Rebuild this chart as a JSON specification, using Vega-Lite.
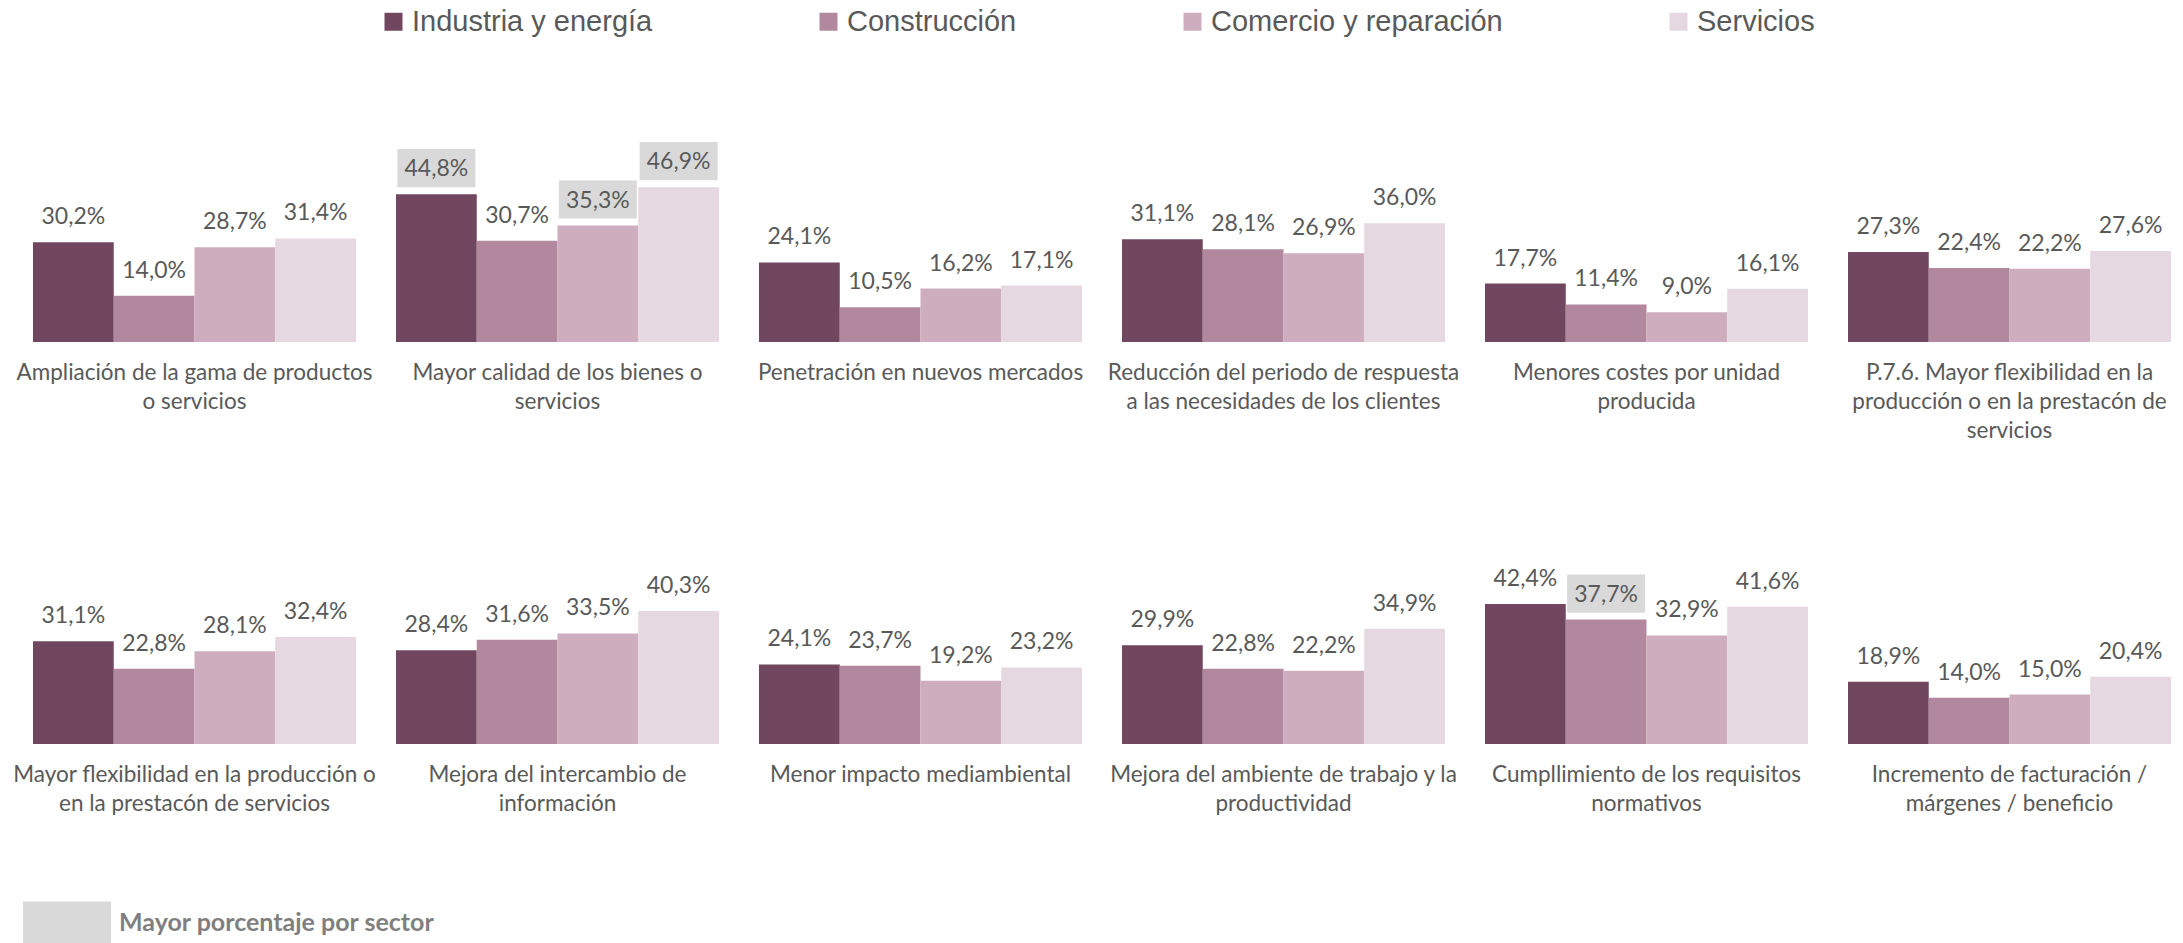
{
  "$schema": "https://vega.github.io/schema/vega-lite/v6.json",
  "padding": {"left": 12, "top": 7, "right": 0, "bottom": 0},
  "background": "white",
  "data": {
    "values": [
      {"cat": "Ampliación de la gama de productos\no servicios", "sector": "Industria y energía", "value": 0.302},
      {"cat": "Ampliación de la gama de productos\no servicios", "sector": "Construcción", "value": 0.140},
      {"cat": "Ampliación de la gama de productos\no servicios", "sector": "Comercio y reparación", "value": 0.287},
      {"cat": "Ampliación de la gama de productos\no servicios", "sector": "Servicios", "value": 0.314},
      {"cat": "Mayor calidad de los bienes o\nservicios", "sector": "Industria y energía", "value": 0.448},
      {"cat": "Mayor calidad de los bienes o\nservicios", "sector": "Construcción", "value": 0.307},
      {"cat": "Mayor calidad de los bienes o\nservicios", "sector": "Comercio y reparación", "value": 0.353},
      {"cat": "Mayor calidad de los bienes o\nservicios", "sector": "Servicios", "value": 0.469},
      {"cat": "Penetración en nuevos mercados", "sector": "Industria y energía", "value": 0.241},
      {"cat": "Penetración en nuevos mercados", "sector": "Construcción", "value": 0.105},
      {"cat": "Penetración en nuevos mercados", "sector": "Comercio y reparación", "value": 0.162},
      {"cat": "Penetración en nuevos mercados", "sector": "Servicios", "value": 0.171},
      {"cat": "Reducción del periodo de respuesta\na las necesidades de los clientes", "sector": "Industria y energía", "value": 0.311},
      {"cat": "Reducción del periodo de respuesta\na las necesidades de los clientes", "sector": "Construcción", "value": 0.281},
      {"cat": "Reducción del periodo de respuesta\na las necesidades de los clientes", "sector": "Comercio y reparación", "value": 0.269},
      {"cat": "Reducción del periodo de respuesta\na las necesidades de los clientes", "sector": "Servicios", "value": 0.360},
      {"cat": "Menores costes por unidad\nproducida", "sector": "Industria y energía", "value": 0.177},
      {"cat": "Menores costes por unidad\nproducida", "sector": "Construcción", "value": 0.114},
      {"cat": "Menores costes por unidad\nproducida", "sector": "Comercio y reparación", "value": 0.090},
      {"cat": "Menores costes por unidad\nproducida", "sector": "Servicios", "value": 0.161},
      {"cat": "P.7.6. Mayor flexibilidad en la\nproducción o en la prestacón de\nservicios", "sector": "Industria y energía", "value": 0.273},
      {"cat": "P.7.6. Mayor flexibilidad en la\nproducción o en la prestacón de\nservicios", "sector": "Construcción", "value": 0.224},
      {"cat": "P.7.6. Mayor flexibilidad en la\nproducción o en la prestacón de\nservicios", "sector": "Comercio y reparación", "value": 0.222},
      {"cat": "P.7.6. Mayor flexibilidad en la\nproducción o en la prestacón de\nservicios", "sector": "Servicios", "value": 0.276},
      {"cat": "Mayor flexibilidad en la producción o\nen la prestacón de servicios", "sector": "Industria y energía", "value": 0.311},
      {"cat": "Mayor flexibilidad en la producción o\nen la prestacón de servicios", "sector": "Construcción", "value": 0.228},
      {"cat": "Mayor flexibilidad en la producción o\nen la prestacón de servicios", "sector": "Comercio y reparación", "value": 0.281},
      {"cat": "Mayor flexibilidad en la producción o\nen la prestacón de servicios", "sector": "Servicios", "value": 0.324},
      {"cat": "Mejora del intercambio de\ninformación", "sector": "Industria y energía", "value": 0.284},
      {"cat": "Mejora del intercambio de\ninformación", "sector": "Construcción", "value": 0.316},
      {"cat": "Mejora del intercambio de\ninformación", "sector": "Comercio y reparación", "value": 0.335},
      {"cat": "Mejora del intercambio de\ninformación", "sector": "Servicios", "value": 0.403},
      {"cat": "Menor impacto mediambiental", "sector": "Industria y energía", "value": 0.241},
      {"cat": "Menor impacto mediambiental", "sector": "Construcción", "value": 0.237},
      {"cat": "Menor impacto mediambiental", "sector": "Comercio y reparación", "value": 0.192},
      {"cat": "Menor impacto mediambiental", "sector": "Servicios", "value": 0.232},
      {"cat": "Mejora del ambiente de trabajo y la\nproductividad", "sector": "Industria y energía", "value": 0.299},
      {"cat": "Mejora del ambiente de trabajo y la\nproductividad", "sector": "Construcción", "value": 0.228},
      {"cat": "Mejora del ambiente de trabajo y la\nproductividad", "sector": "Comercio y reparación", "value": 0.222},
      {"cat": "Mejora del ambiente de trabajo y la\nproductividad", "sector": "Servicios", "value": 0.349},
      {"cat": "Cumpllimiento de los requisitos\nnormativos", "sector": "Industria y energía", "value": 0.424},
      {"cat": "Cumpllimiento de los requisitos\nnormativos", "sector": "Construcción", "value": 0.377},
      {"cat": "Cumpllimiento de los requisitos\nnormativos", "sector": "Comercio y reparación", "value": 0.329},
      {"cat": "Cumpllimiento de los requisitos\nnormativos", "sector": "Servicios", "value": 0.416},
      {"cat": "Incremento de facturación /\nmárgenes / beneficio", "sector": "Industria y energía", "value": 0.189},
      {"cat": "Incremento de facturación /\nmárgenes / beneficio", "sector": "Construcción", "value": 0.140},
      {"cat": "Incremento de facturación /\nmárgenes / beneficio", "sector": "Comercio y reparación", "value": 0.150},
      {"cat": "Incremento de facturación /\nmárgenes / beneficio", "sector": "Servicios", "value": 0.204}
    ]
  },
  "transform": [
    {"joinaggregate": [{"op": "max", "field": "value", "as": "maxv"}], "groupby": ["sector"]}
  ],
  "columns": 6,
  "bounds": "flush",
  "spacing": {"column": 40, "row": 204},
  "facet": {
    "field": "cat",
    "type": "nominal",
    "sort": [
      "Ampliación de la gama de productos\no servicios",
      "Mayor calidad de los bienes o\nservicios",
      "Penetración en nuevos mercados",
      "Reducción del periodo de respuesta\na las necesidades de los clientes",
      "Menores costes por unidad\nproducida",
      "P.7.6. Mayor flexibilidad en la\nproducción o en la prestacón de\nservicios",
      "Mayor flexibilidad en la producción o\nen la prestacón de servicios",
      "Mejora del intercambio de\ninformación",
      "Menor impacto mediambiental",
      "Mejora del ambiente de trabajo y la\nproductividad",
      "Cumpllimiento de los requisitos\nnormativos",
      "Incremento de facturación /\nmárgenes / beneficio"
    ],
    "header": {
      "title": null,
      "labelOrient": "bottom",
      "labelExpr": "split(datum.value, '\\n')",
      "labelFont": "Lato",
      "labelFontSize": 22.5,
      "labelColor": "#595959",
      "labelPadding": 20,
      "labelLineHeight": 29,
      "labelBaseline": "top"
    }
  },
  "spec": {
    "width": 323,
    "height": 198,
    "encoding": {
      "x": {
        "field": "sector",
        "type": "nominal",
        "sort": ["Industria y energía", "Construcción", "Comercio y reparación", "Servicios"],
        "scale": {"paddingInner": 0, "paddingOuter": 0},
        "axis": null
      },
      "y": {
        "field": "value",
        "type": "quantitative",
        "scale": {"domain": [0, 0.6], "nice": false},
        "axis": null
      }
    },
    "layer": [
      {
        "mark": {"type": "bar"},
        "encoding": {
          "color": {
            "field": "sector",
            "type": "nominal",
            "scale": {
              "domain": ["Industria y energía", "Construcción", "Comercio y reparación", "Servicios"],
              "range": ["#70475F", "#B1889E", "#CEAEBE", "#E5D8E1"]
            },
            "legend": {
              "orient": "none",
              "legendX": 346,
              "legendY": -137,
              "direction": "horizontal",
              "columns": 4,
              "title": null,
              "padding": 0,
              "symbolType": "square",
              "symbolSize": 324,
              "symbolStrokeWidth": 0,
              "labelFont": "Liberation Sans",
              "labelFontSize": 29,
              "labelColor": "#595959",
              "labelOffset": 4,
              "labelLimit": 500,
              "columnPadding": 161
            }
          }
        }
      },
      {
        "transform": [
          {"filter": "datum.value == datum.maxv"}
        ],
        "mark": {
          "type": "point",
          "filled": true,
          "opacity": 1,
          "color": "#D9D9D9",
          "size": 6084,
          "yOffset": -26
        },
        "encoding": {
          "shape": {
            "datum": "Mayor porcentaje por sector",
            "scale": {"range": ["M-1,-0.49L1,-0.49L1,0.49L-1,0.49Z"]},
            "legend": {
              "orient": "none",
              "legendX": -10,
              "legendY": 735,
              "title": null,
              "padding": 0,
              "symbolType": "M-1,-0.6L1,-0.6L1,0.6L-1,0.6Z",
              "symbolSize": 7744,
              "symbolFillColor": "#D9D9D9",
              "symbolStrokeWidth": 0,
              "symbolOpacity": 1,
              "labelFont": "Lato",
              "labelFontWeight": "bold",
              "labelFontSize": 25,
              "labelColor": "#7F7F7F",
              "labelOffset": 8,
              "labelLimit": 500
            }
          }
        }
      },
      {
        "mark": {
          "type": "text",
          "font": "Lato",
          "fontSize": 23,
          "color": "#595959",
          "baseline": "middle",
          "yOffset": -25
        },
        "encoding": {
          "text": {"field": "value", "type": "quantitative", "format": ".1%"}
        }
      }
    ]
  },
  "config": {
    "view": {"stroke": null},
    "locale": {
      "number": {"decimal": ",", "thousands": ".", "grouping": [3], "currency": ["", " €"]}
    }
  }
}
